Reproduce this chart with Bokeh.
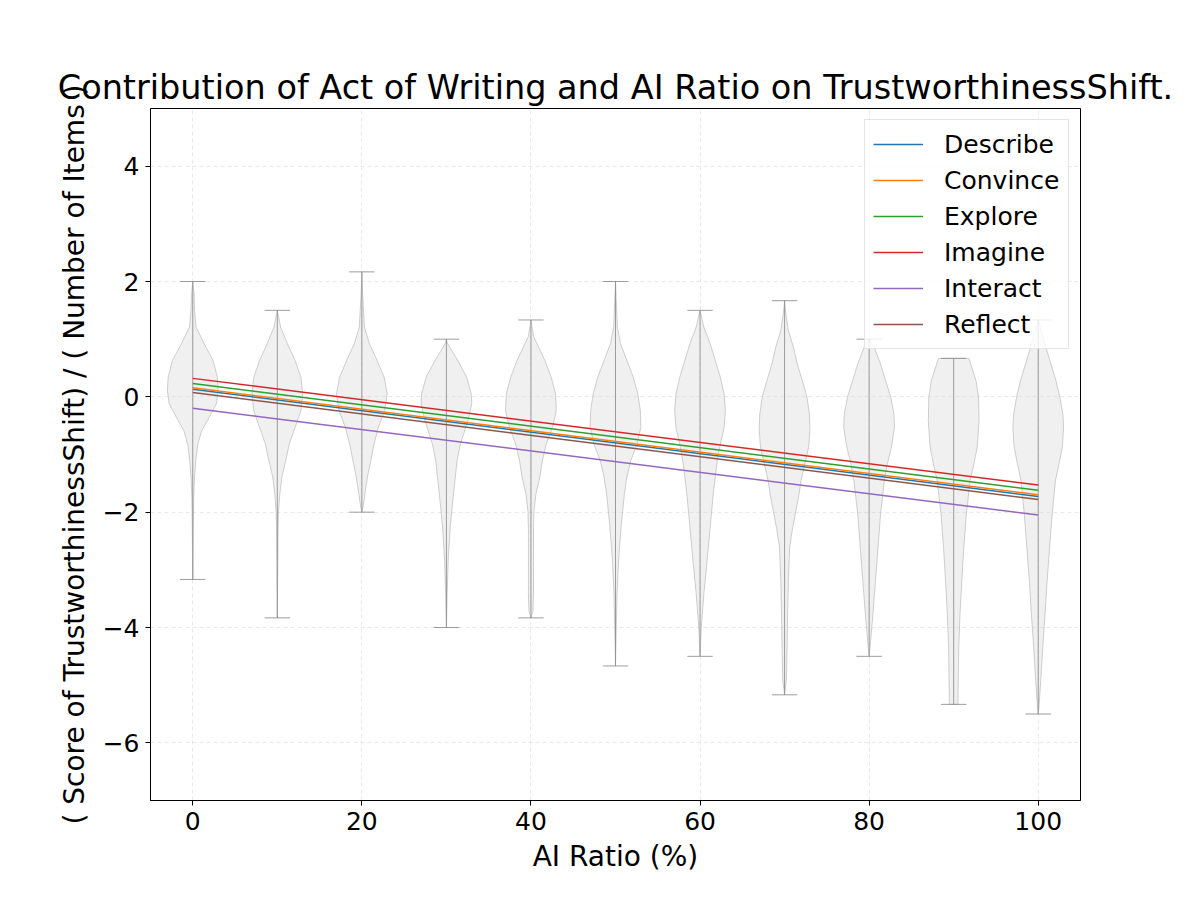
from bokeh.plotting import figure
from bokeh.models import Range1d, Legend, LegendItem, FixedTicker
from bokeh.embed import file_html
from bokeh.resources import INLINE

# ---------------- data ----------------
categories = ["Describe", "Convince", "Explore", "Imagine", "Interact", "Reflect"]
colors = ["#1f77b4", "#ff7f0e", "#2ca02c", "#d62728", "#9467bd", "#8c564b"]
line_x = [0, 100]
line_start = [0.13, 0.156, 0.23, 0.32, -0.197, 0.075]   # fitted value at AI ratio 0
line_end = [-1.73, -1.70, -1.62, -1.53, -2.05, -1.78]   # fitted value at AI ratio 100

violin_x = [0, 10, 20, 30, 40, 50, 60, 70, 80, 90, 100]
violin_min = [-3.167, -3.833, -2.0, -4.0, -3.833, -4.667, -4.5, -5.167, -4.5, -5.333, -5.5]
violin_max = [2.0, 1.5, 2.167, 1.0, 1.333, 2.0, 1.5, 1.667, 1.0, 0.667, 1.333]

# violin density profiles: y levels (top -> bottom) and relative half-width
prof_y = [
    [2.0, 1.79, 1.5, 1.21, 0.92, 0.63, 0.34, 0.11, -0.12, -0.35, -0.59, -0.82, -1.1, -1.39, -1.68, -2.26, -2.84, -3.167],
    [1.5, 1.21, 0.92, 0.63, 0.34, 0.05, -0.24, -0.53, -0.82, -1.11, -1.39, -1.68, -1.97, -2.26, -2.84, -3.833],
    [2.167, 1.79, 1.21, 0.92, 0.63, 0.34, 0.05, -0.24, -0.53, -0.82, -1.11, -1.39, -1.68, -1.9, -2.0],
    [1.0, 0.92, 0.63, 0.34, 0.05, -0.12, -0.41, -0.82, -1.11, -1.68, -2.26, -2.84, -3.42, -4.0],
    [1.333, 1.05, 0.63, 0.34, 0.05, -0.24, -0.53, -0.82, -1.11, -1.39, -1.68, -1.97, -2.26, -2.84, -3.42, -3.71, -3.833],
    [2.0, 1.79, 1.21, 0.92, 0.63, 0.34, 0.05, -0.24, -0.53, -0.82, -1.11, -1.39, -1.68, -2.26, -2.84, -3.42, -4.0, -4.667],
    [1.5, 1.21, 0.92, 0.63, 0.34, 0.05, -0.24, -0.53, -0.82, -1.11, -1.39, -1.68, -2.26, -2.84, -3.42, -4.0, -4.5],
    [1.667, 1.44, 1.15, 0.86, 0.57, 0.28, 0.0, -0.3, -0.58, -0.87, -1.16, -1.45, -1.74, -2.03, -2.32, -2.61, -3.19, -3.76, -4.34, -4.92, -5.167],
    [1.0, 0.86, 0.57, 0.28, 0.0, -0.3, -0.53, -0.87, -1.16, -1.45, -2.03, -2.61, -3.19, -3.76, -4.23, -4.5],
    [0.667, 0.28, 0.0, -0.41, -0.87, -1.16, -1.45, -2.03, -2.61, -3.19, -3.76, -4.34, -4.92, -5.3, -5.333],
    [1.333, 1.15, 0.86, 0.57, 0.28, 0.0, -0.3, -0.53, -0.87, -1.16, -1.45, -2.03, -2.61, -3.19, -3.76, -4.34, -4.92, -5.38, -5.5],
]
prof_w = [
    [0.0, 0.05, 0.07, 0.13, 0.45, 0.8, 0.97, 1.0, 0.93, 0.65, 0.35, 0.2, 0.12, 0.07, 0.04, 0.02, 0.01, 0.0],
    [0.0, 0.13, 0.4, 0.7, 0.93, 1.0, 0.93, 0.7, 0.47, 0.33, 0.18, 0.1, 0.05, 0.03, 0.02, 0.0],
    [0.0, 0.03, 0.1, 0.3, 0.6, 0.88, 1.0, 0.9, 0.65, 0.48, 0.35, 0.22, 0.12, 0.05, 0.0],
    [0.0, 0.05, 0.45, 0.8, 0.98, 1.0, 0.85, 0.55, 0.42, 0.28, 0.15, 0.07, 0.03, 0.0],
    [0.0, 0.1, 0.55, 0.8, 0.97, 1.0, 0.85, 0.6, 0.45, 0.35, 0.2, 0.12, 0.1, 0.1, 0.1, 0.08, 0.0],
    [0.0, 0.02, 0.07, 0.2, 0.45, 0.7, 0.88, 0.98, 1.0, 0.85, 0.6, 0.45, 0.35, 0.22, 0.12, 0.06, 0.03, 0.0],
    [0.0, 0.15, 0.4, 0.6, 0.8, 0.95, 1.0, 0.95, 0.8, 0.68, 0.6, 0.52, 0.4, 0.28, 0.15, 0.05, 0.0],
    [0.0, 0.05, 0.15, 0.35, 0.5, 0.7, 0.88, 0.98, 1.0, 0.95, 0.8, 0.65, 0.55, 0.42, 0.3, 0.2, 0.15, 0.12, 0.1, 0.07, 0.0],
    [0.0, 0.2, 0.45, 0.65, 0.85, 0.98, 1.0, 0.88, 0.72, 0.6, 0.45, 0.35, 0.25, 0.15, 0.06, 0.0],
    [0.6, 0.88, 0.98, 1.0, 0.93, 0.8, 0.65, 0.5, 0.4, 0.32, 0.25, 0.2, 0.18, 0.17, 0.17],
    [0.0, 0.12, 0.3, 0.5, 0.7, 0.85, 0.97, 1.0, 0.95, 0.82, 0.68, 0.55, 0.45, 0.35, 0.27, 0.18, 0.1, 0.03, 0.0],
]

x_ticks = [0, 20, 40, 60, 80, 100]
y_ticks = [-6, -4, -2, 0, 2, 4]
y_tick_labels = ["\u22126", "\u22124", "\u22122", "0", "2", "4"]

# ---------------- figure ----------------
FONT = "DejaVu Sans"
p = figure(width=1184, height=884, output_backend="svg", toolbar_location=None,
           x_range=Range1d(-5, 105), y_range=Range1d(-7, 5),
           min_border_left=150, min_border_right=104, min_border_top=108, min_border_bottom=84,
           title="Contribution of Act of Writing and AI Ratio on TrustworthinessShift.")
p.title.text_font = FONT
p.title.text_font_size = "33.5px"
p.title.text_font_style = "normal"
p.title.text_color = "black"
p.title.align = "center"
p.title.standoff = 4
p.outline_line_color = "black"
p.outline_line_width = 1
p.outline_line_alpha = 1
p.background_fill_color = "white"
p.border_fill_color = "white"

for ax in (p.xaxis[0], p.yaxis[0]):
    ax.axis_line_color = "black"
    ax.major_tick_line_color = "black"
    ax.major_tick_out = 5
    ax.major_tick_in = 0
    ax.minor_tick_line_color = None
    ax.major_label_text_font = FONT
    ax.major_label_text_font_size = "25px"
    ax.major_label_text_color = "black"
    ax.axis_label_text_font = FONT
    ax.axis_label_text_font_size = "28px"
    ax.axis_label_text_font_style = "normal"
    ax.axis_label_text_color = "black"
    ax.major_label_standoff = 6

p.xaxis.ticker = FixedTicker(ticks=x_ticks)
p.yaxis.ticker = FixedTicker(ticks=y_ticks)
p.yaxis.major_label_overrides = {t: l for t, l in zip(y_ticks, y_tick_labels)}
p.xaxis.axis_label = "AI Ratio (%)"
p.yaxis.axis_label = "( Score of TrustworthinessShift) / ( Number of Items )"
p.xaxis.axis_label_standoff = 7
p.yaxis.axis_label_standoff = 9

p.grid.grid_line_color = "#d8d8d8"
p.grid.grid_line_dash = "4 3"
p.grid.grid_line_alpha = 0.7
p.grid.grid_line_width = 0.8

# ---------------- violins ----------------
half_width = 3.0
xs, ys = [], []
for cx, py, pw in zip(violin_x, prof_y, prof_w):
    right_x = [cx + half_width * w for w in pw]
    left_x = [cx - half_width * w for w in reversed(pw)]
    xs.append(right_x + left_x)
    ys.append(list(py) + list(reversed(py)))
p.patches(xs, ys, fill_color="#d3d3d3", fill_alpha=0.35, line_color="#bababa", line_alpha=0.7, line_width=1)

cap = 1.5
p.segment(x0=violin_x, y0=violin_min, x1=violin_x, y1=violin_max, line_color="#8c8c8c", line_alpha=0.85, line_width=1)
p.segment(x0=[x - cap for x in violin_x], y0=violin_max, x1=[x + cap for x in violin_x], y1=violin_max,
          line_color="#8c8c8c", line_alpha=0.85, line_width=1)
p.segment(x0=[x - cap for x in violin_x], y0=violin_min, x1=[x + cap for x in violin_x], y1=violin_min,
          line_color="#8c8c8c", line_alpha=0.85, line_width=1)

# ---------------- regression lines ----------------
items = []
for cat, col, y0, y1 in zip(categories, colors, line_start, line_end):
    r = p.line(line_x, [y0, y1], line_color=col, line_width=1.5)
    items.append(LegendItem(label=cat, renderers=[r]))

legend = Legend(items=items, location="top_right")
legend.label_text_font = FONT
legend.label_text_font_size = "25px"
legend.label_text_color = "black"
legend.label_standoff = 21
legend.label_width = 116
legend.glyph_width = 50
legend.glyph_height = 32
legend.label_height = 32
legend.spacing = 4
legend.padding = 8
legend.margin = 11
legend.border_line_color = "#cccccc"
legend.border_line_width = 1
legend.background_fill_color = "white"
legend.background_fill_alpha = 0.8
p.add_layout(legend)

open("out.html", "w").write(file_html(p, INLINE))
